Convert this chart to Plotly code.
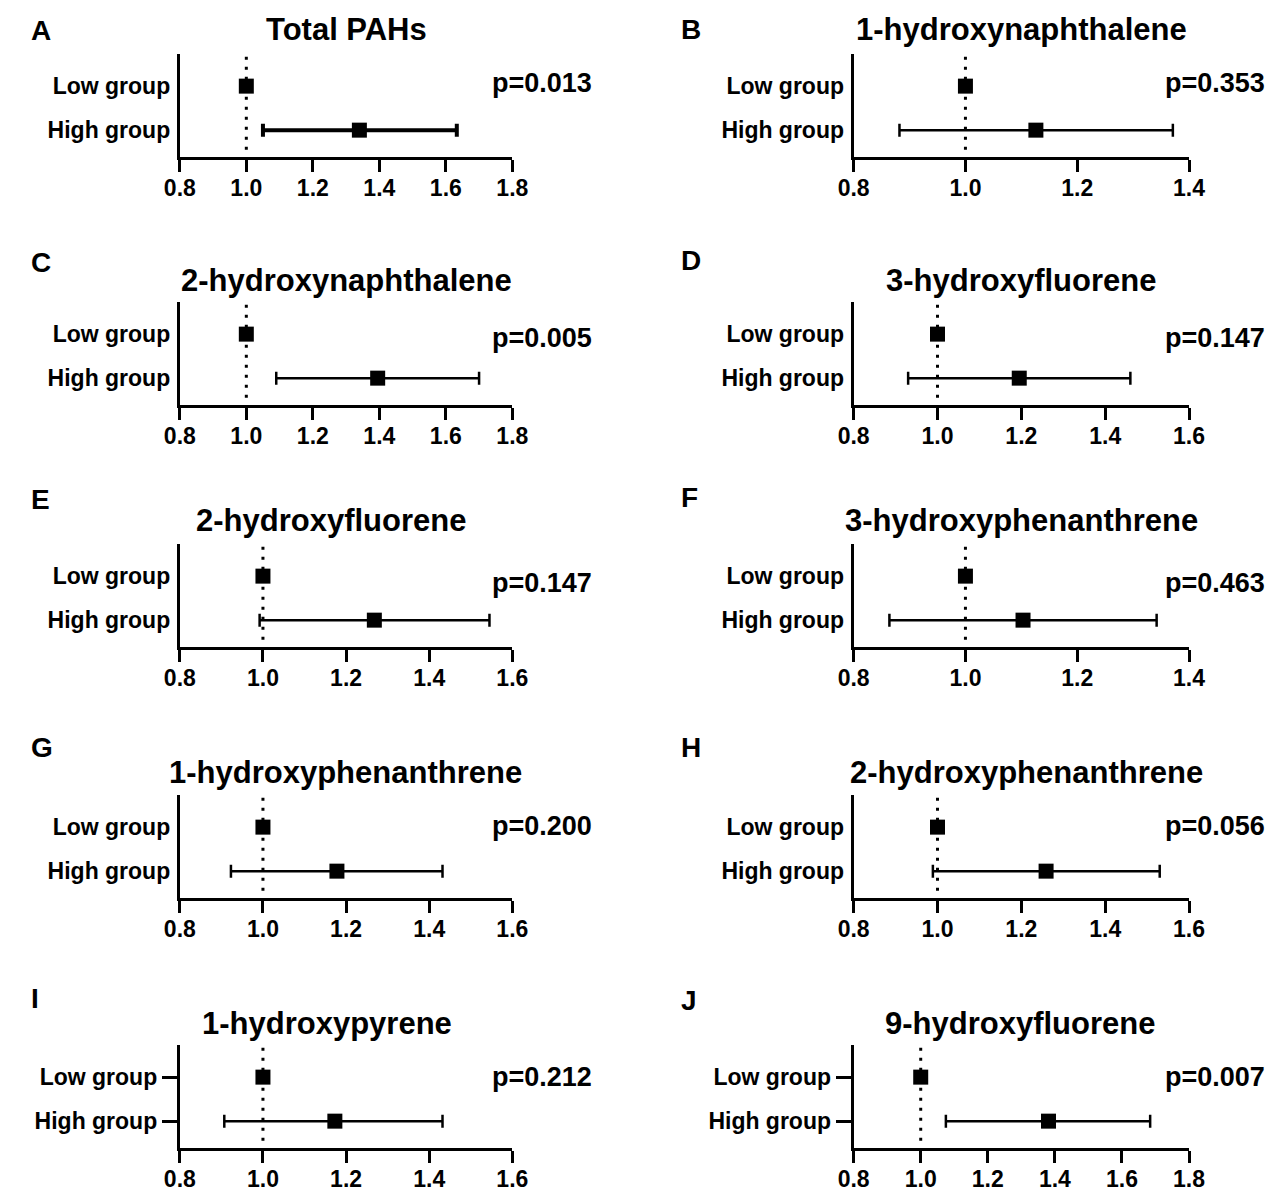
import plotly.graph_objects as go

W, H = 1286, 1195

# ---------------- data ----------------
letters = ["A", "B", "C", "D", "E", "F", "G", "H", "I", "J"]
titles = ["Total PAHs", "1-hydroxynaphthalene", "2-hydroxynaphthalene",
          "3-hydroxyfluorene", "2-hydroxyfluorene", "3-hydroxyphenanthrene",
          "1-hydroxyphenanthrene", "2-hydroxyphenanthrene", "1-hydroxypyrene",
          "9-hydroxyfluorene"]
categories = ["Low group", "High group"]
low_or = [1.0, 1.0, 1.0, 1.0, 1.0, 1.0, 1.0, 1.0, 1.0, 1.0]
high_or = [1.34, 1.126, 1.395, 1.195, 1.268, 1.103, 1.178, 1.259, 1.173, 1.381]
high_lo = [1.05, 0.882, 1.09, 0.930, 0.992, 0.864, 0.923, 0.989, 0.907, 1.075]
high_hi = [1.633, 1.371, 1.70, 1.460, 1.545, 1.342, 1.432, 1.530, 1.432, 1.684]
p_values = ["p=0.013", "p=0.353", "p=0.005", "p=0.147", "p=0.147",
            "p=0.463", "p=0.200", "p=0.056", "p=0.212", "p=0.007"]
x_min = [0.8, 0.8, 0.8, 0.8, 0.8, 0.8, 0.8, 0.8, 0.8, 0.8]
x_max = [1.8, 1.4, 1.8, 1.6, 1.6, 1.4, 1.6, 1.6, 1.6, 1.8]
x_ticks = [["0.8", "1.0", "1.2", "1.4", "1.6", "1.8"],
           ["0.8", "1.0", "1.2", "1.4"],
           ["0.8", "1.0", "1.2", "1.4", "1.6", "1.8"],
           ["0.8", "1.0", "1.2", "1.4", "1.6"],
           ["0.8", "1.0", "1.2", "1.4", "1.6"],
           ["0.8", "1.0", "1.2", "1.4"],
           ["0.8", "1.0", "1.2", "1.4", "1.6"],
           ["0.8", "1.0", "1.2", "1.4", "1.6"],
           ["0.8", "1.0", "1.2", "1.4", "1.6"],
           ["0.8", "1.0", "1.2", "1.4", "1.6", "1.8"]]

# ---------------- layout (pixels) ----------------
col_x = [(168, 509), (859, 1203)]
axis_bottom = [157, 405, 647, 898, 1148]
plot_h = 103
title_y = [30, 281, 521, 773, 1023]
title_x = [[339, 1031], [339, 1031], [323, 1031], [338, 1036], [319, 1030]]
letter_y = [[31, 30], [262, 260], [499, 498], [748, 748], [998, 1000]]
letter_x = [13, 680]
p_y = [83, 338, 583, 826, 1077]
p_x = [593, 1283]
err_thick = [4, 2.5, 2.5, 2.5, 2.5, 2.5, 2.5, 2.5, 2.5, 2.5]
y_ticks_shown = [False] * 8 + [True, True]

FONT = "Arial, Liberation Sans, Helvetica, sans-serif"


def fx(px):
    return px / W


def fy(py):
    return 1 - py / H


fig = go.Figure()
annotations = []
shapes = []
layout = {}

for i in range(10):
    r, c = divmod(i, 2)
    n = i + 1
    xs = "x" if n == 1 else f"x{n}"
    ys = "y" if n == 1 else f"y{n}"
    xk = "xaxis" if n == 1 else f"xaxis{n}"
    yk = "yaxis" if n == 1 else f"yaxis{n}"
    b = axis_bottom[r]
    x0p, x1p = col_x[c]

    fig.add_trace(go.Scatter(
        x=[low_or[i]], y=[1], mode="markers", xaxis=xs, yaxis=ys,
        marker=dict(symbol="square", size=15, color="black"),
        showlegend=False, cliponaxis=False))
    fig.add_trace(go.Scatter(
        x=[high_or[i]], y=[0], mode="markers", xaxis=xs, yaxis=ys,
        marker=dict(symbol="square", size=15, color="black"),
        error_x=dict(type="data", symmetric=False,
                     array=[high_hi[i] - high_or[i]],
                     arrayminus=[high_or[i] - high_lo[i]],
                     color="black", thickness=err_thick[i], width=6.5),
        showlegend=False, cliponaxis=False))

    tickvals = [float(t) for t in x_ticks[i]]
    layout[xk] = dict(
        domain=[fx(x0p), fx(x1p)], anchor=ys,
        range=[x_min[i], x_max[i]], tickvals=tickvals, ticktext=x_ticks[i],
        showline=True, linecolor="black", linewidth=3,
        ticks="outside", ticklen=12, tickwidth=3, tickcolor="black",
        ticklabelstandoff=-4,
        showgrid=False, zeroline=False, fixedrange=True,
        tickfont=dict(family=FONT, size=23, color="black", weight="bold"))
    layout[yk] = dict(
        domain=[fy(b), fy(b - plot_h)], anchor=xs,
        range=[-0.61, 1.73], tickvals=[1, 0], ticktext=categories,
        showline=True, linecolor="black", linewidth=3,
        ticks="outside" if y_ticks_shown[i] else "",
        ticklen=15 if y_ticks_shown[i] else 0, tickwidth=3, tickcolor="black",
        ticklabelstandoff=0 if y_ticks_shown[i] else 2,
        showgrid=False, zeroline=False, fixedrange=True,
        tickfont=dict(family=FONT, size=23, color="black", weight="bold"))

    # dotted reference line at OR = 1
    shapes.append(dict(type="line", xref=xs, yref=f"{ys} domain",
                       x0=1.0, x1=1.0, y0=0.07, y1=1.0,
                       line=dict(color="black", width=3, dash="3px,7px")))

    annotations.append(dict(text=titles[i], x=fx(title_x[r][c]), y=fy(title_y[r]),
                            xref="paper", yref="paper", xanchor="center",
                            yanchor="middle", showarrow=False,
                            font=dict(family=FONT, size=31, color="black", weight="bold")))
    annotations.append(dict(text=letters[i], x=fx(letter_x[c]), y=fy(letter_y[r][c]),
                            xref="paper", yref="paper", xanchor="left",
                            yanchor="middle", showarrow=False,
                            font=dict(family=FONT, size=28, color="black", weight="bold")))
    annotations.append(dict(text=p_values[i], x=fx(p_x[c]), y=fy(p_y[r]),
                            xref="paper", yref="paper", xanchor="right",
                            yanchor="middle", showarrow=False,
                            font=dict(family=FONT, size=27, color="black", weight="bold")))

fig.update_layout(
    width=W, height=H, margin=dict(l=0, r=0, t=0, b=0),
    paper_bgcolor="white", plot_bgcolor="white", hovermode=False,
    annotations=annotations, shapes=shapes, showlegend=False, **layout)

fig.write_html("out.html",
               config={"displayModeBar": False, "staticPlot": True},
               post_script="document.body.style.margin='0';"
                           "document.body.style.overflow='hidden';")
